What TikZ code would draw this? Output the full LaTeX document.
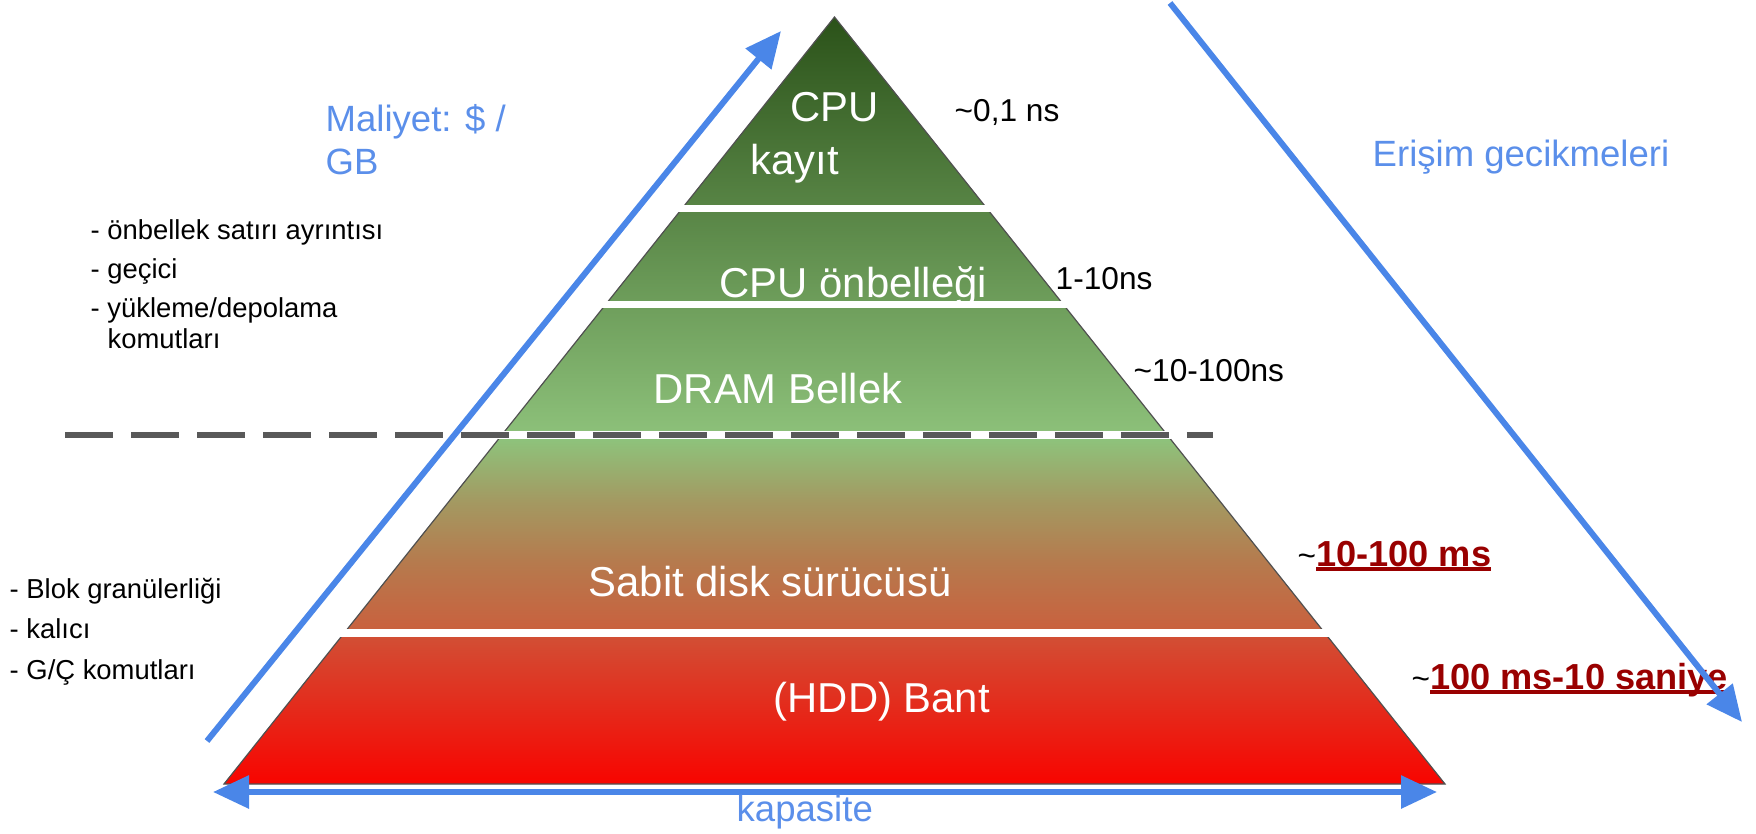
\documentclass[tikz,border=0pt]{standalone}
\usepackage{fontspec}
\setmainfont{Liberation Sans}
\usetikzlibrary{arrows.meta,calc}

\definecolor{axisblue}{HTML}{4A86E8}
\definecolor{labelblue}{HTML}{5B8FEA}
\definecolor{dashgray}{HTML}{595959}
\definecolor{edgegray}{HTML}{505050}
\definecolor{slowred}{HTML}{990000}
% pyramid colours, bottom to top
\definecolor{pyrA}{HTML}{F80400}
\definecolor{pyrB}{HTML}{D24E34}
\definecolor{pyrC}{HTML}{C9613E}
\definecolor{pyrD}{HTML}{B57B4E}
\definecolor{pyrE}{HTML}{A39A62}
\definecolor{pyrF}{HTML}{8EC27B}
\definecolor{pyrG}{HTML}{2B5219}
\pgfdeclareverticalshading{pyrshade}{100bp}{color(0bp)=(pyrA); color(25bp)=(pyrA); color(34.58bp)=(pyrB); color(35.1bp)=(pyrC); color(39.6bp)=(pyrD); color(43.51bp)=(pyrE); color(47.43bp)=(pyrF); color(75bp)=(pyrG); color(100bp)=(pyrG)}

\newcommand{\slowtime}[1]{\textcolor{slowred}{\setbox0=\hbox{\bfseries #1}\rlap{\rule[-1.3pt]{\wd0}{0.9pt}}\box0}}

\begin{document}
\begin{tikzpicture}[x=0.1mm,y=-0.1mm,
    layer/.style={text=white,font=\fontsize{11.9}{14}\selectfont,inner sep=0pt,anchor=base west},
    delay/.style={font=\fontsize{9}{11}\selectfont,inner sep=0pt,anchor=base west},
    slowdelay/.style={font=\fontsize{10.3}{12}\selectfont,inner sep=0pt,anchor=base west},
    axislabel/.style={text=labelblue,font=\fontsize{10.4}{12}\selectfont,inner sep=0pt,anchor=base west,align=left},
    note/.style={font=\fontsize{7.8}{8.6}\selectfont,inner sep=0pt,anchor=base west,align=left},
    trend/.style={draw=axisblue,line width=0.6mm,-{Triangle[length=3.6mm,width=3.2mm]}},
    band/.style={draw=white,line width=0.75mm,shorten <=-0.4mm,shorten >=-0.4mm},
    divider/.style={draw=dashgray,line width=0.55mm,dash pattern=on 4.8mm off 1.8mm}]
    \useasboundingbox (0,0) rectangle (1756,833);

    % pyramid
    \coordinate (top) at (834.5,17);
    \coordinate (bl) at (224,784);
    \coordinate (br) at (1445,784);
    \shade[shading=pyrshade] (top) -- (bl) -- (br) -- cycle;

    \node[layer] (reg1) at (790,121) {CPU};
    \node[layer] (reg2) at (750,174) {kayıt};
    \node[layer] (cache) at (719,297) {CPU önbelleği};
    \node[layer] (dram) at (653,403) {DRAM Bellek};
    \node[layer] (disk) at (588,596) {Sabit disk sürücüsü};
    \node[layer] (tape) at (773,712) {(HDD) Bant};

    \draw[edgegray,line width=0.12mm] (top) -- (bl) -- (br) -- cycle;
    \draw[band] ($(top)!0.2497!(bl)$) -- ($(top)!0.2497!(br)$);
    \draw[band] ($(top)!0.3748!(bl)$) -- ($(top)!0.3748!(br)$);
    \draw[band] ($(top)!0.5450!(bl)$) -- ($(top)!0.5450!(br)$);
    \draw[band] ($(top)!0.8031!(bl)$) -- ($(top)!0.8031!(br)$);
    \draw[divider] (65,435) -- (1213,435);

    % latencies
    \node[delay] (t1) at (954,121) {\textasciitilde 0,1 ns};
    \node[delay] (t2) at (1055,289) {1-10ns};
    \node[delay] (t3) at (1133,381) {\textasciitilde 10-100ns};
    \node[slowdelay] (t4) at (1297,566) {{\fontsize{9}{11}\selectfont\textasciitilde}\slowtime{10-100 ms}};
    \node[slowdelay] (t5) at (1411,689) {{\fontsize{9}{11}\selectfont\textasciitilde}\slowtime{100 ms-10 saniye}};

    % axes
    \coordinate (costlow) at (207,741);
    \coordinate (costhigh) at (781,31);
    \coordinate (latfast) at (1170,3);
    \coordinate (latslow) at (1742,722);
    \coordinate (capleft) at (213,792);
    \coordinate (capright) at (1437,792);
    \draw[trend] (costlow) -- (costhigh);
    \draw[trend] (latfast) -- (latslow);
    \draw[trend,{Triangle[length=3.6mm,width=3.2mm]}-{Triangle[length=3.6mm,width=3.2mm]}] (capleft) -- (capright);

    \node[axislabel] (cost) at (325,174) {Maliyet: \$ /\\GB};
    \node[axislabel] (lat) at (1372,166) {Erişim gecikmeleri};
    \node[axislabel] (cap) at (736,821) {kapasite};

    % side notes
    \node[note] (memnotes) at (90,348) {- önbellek satırı ayrıntısı\\[0.9mm]- geçici\\[0.9mm]- yükleme/depolama\\\hspace*{1.7mm}komutları};
    \node[note] (disknotes) at (9,679) {- Blok granülerliği\\[1mm]- kalıcı\\[1mm]- G/Ç komutları};
\end{tikzpicture}
\end{document}
